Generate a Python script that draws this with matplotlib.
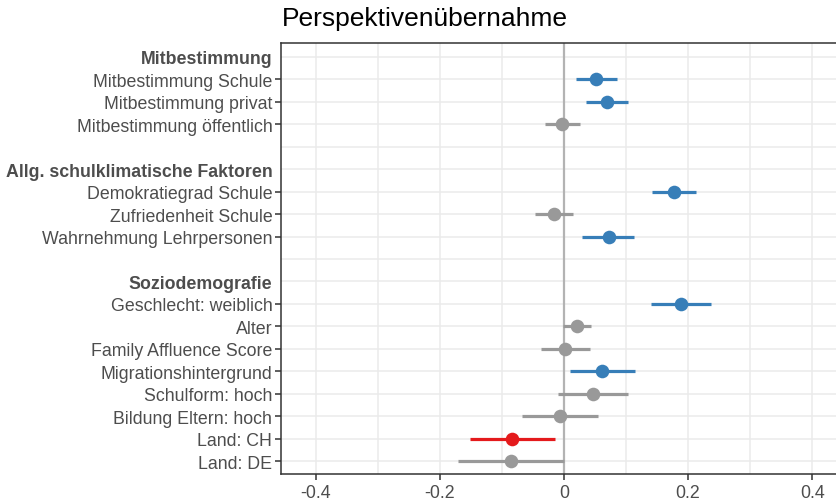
import numpy as np
import matplotlib
matplotlib.use("Agg")
from matplotlib import pyplot as plt

plt.rcParams['font.family'] = ['Liberation Sans', 'DejaVu Sans']

# rows from top to bottom; '' = empty spacer row
labels = ['Mitbestimmung', 'Mitbestimmung Schule', 'Mitbestimmung privat',
          'Mitbestimmung öffentlich', '',
          'Allg. schulklimatische Faktoren', 'Demokratiegrad Schule',
          'Zufriedenheit Schule', 'Wahrnehmung Lehrpersonen', '',
          'Soziodemografie', 'Geschlecht: weiblich', 'Alter',
          'Family Affluence Score', 'Migrationshintergrund', 'Schulform: hoch',
          'Bildung Eltern: hoch', 'Land: CH', 'Land: DE']
headers = ['Mitbestimmung', 'Allg. schulklimatische Faktoren', 'Soziodemografie']

est = [None, 0.052, 0.069, -0.003, None,
       None, 0.178, -0.016, 0.072, None,
       None, 0.189, 0.021, 0.002, 0.062, 0.047, -0.006, -0.083, -0.085]
lo = [None, 0.019, 0.035, -0.031, None,
      None, 0.142, -0.046, 0.030, None,
      None, 0.141, -0.002, -0.037, 0.010, -0.009, -0.067, -0.151, -0.171]
hi = [None, 0.085, 0.103, 0.026, None,
      None, 0.213, 0.015, 0.113, None,
      None, 0.237, 0.044, 0.042, 0.114, 0.103, 0.055, -0.015, 0.001]
# sig: 1 positive, -1 negative, 0 n.s.
sig = [0, 1, 1, 0, 0,
       0, 1, 0, 1, 0,
       0, 1, 0, 0, 1, 0, 0, -1, 0]

colors = {1: '#377EB8', -1: '#E41A1C', 0: '#999999'}

fig = plt.figure(figsize=(8.37, 5.02), dpi=100)
ax = fig.add_axes([0.3362, 0.0528, 0.6638, 0.8586])

n = len(labels)
ypos = np.arange(n)[::-1] + 1

ax.axvline(0, color='#B3B3B3', lw=1.6, zorder=2)
for i in range(n):
    if est[i] is None:
        continue
    c = colors[sig[i]]
    ax.plot([lo[i], hi[i]], [ypos[i], ypos[i]], color=c, lw=2.3,
            solid_capstyle='butt', zorder=3)
    ax.plot(est[i], ypos[i], 'o', color=c, ms=9.8, mec='none', zorder=4)

ax.set_xlim(-0.455, 0.44)
ax.set_ylim(0.4, n + 0.6)
ax.set_xticks([-0.4, -0.2, 0, 0.2, 0.4])
ax.set_xticklabels(['-0.4', '-0.2', '0', '0.2', '0.4'])
ax.set_xticks([-0.3, -0.1, 0.1, 0.3], minor=True)
ax.set_yticks(ypos)
ax.set_yticklabels(labels)

ax.grid(True, which='both', color='#EBEBEB', lw=1.1, zorder=0)
ax.set_axisbelow(True)
ax.tick_params(axis='both', which='major', labelsize=12.8, colors='#333333',
               labelcolor='#4D4D4D', length=4, width=1.1, pad=2.5)
ax.tick_params(axis='x', which='minor', length=0)

for tick, lab in zip(ax.yaxis.get_major_ticks(), labels):
    if lab in headers or lab == '':
        tick.tick1line.set_visible(False)
for t in ax.get_yticklabels():
    if t.get_text() in headers:
        t.set_fontweight('bold')

for s in ax.spines.values():
    s.set_color('#333333')
    s.set_linewidth(1.1)

fig.text(0.3362, 0.962, 'Perspektivenübernahme', fontsize=19, color='black',
         ha='left', va='center')

fig.savefig('out.png', dpi=100)
